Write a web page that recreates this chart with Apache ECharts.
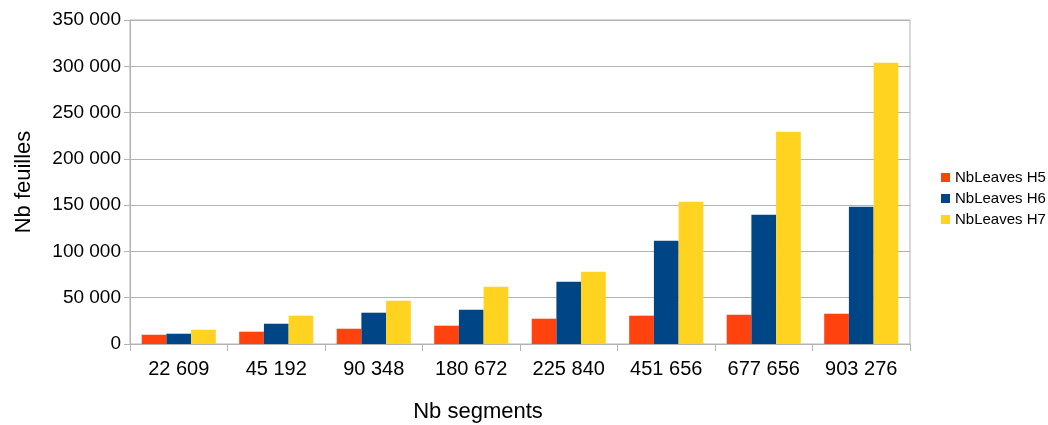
<!DOCTYPE html>
<html>
<head>
<meta charset="utf-8">
<script src="https://cdn.jsdelivr.net/npm/echarts@6/dist/echarts.min.js"></script>
<style>html,body{margin:0;padding:0;background:#fff}#c{width:1048px;height:425px}</style>
</head>
<body>
<div id="c"></div>
<script>
const categories = ['22 609','45 192','90 348','180 672','225 840','451 656','677 656','903 276'];
const h5 = [10000, 13300, 16500, 19800, 27300, 30600, 31600, 32700];
const h6 = [11100, 21900, 33800, 37000, 67300, 111600, 139600, 148300];
const h7 = [15400, 30600, 46800, 61900, 78000, 153700, 229300, 303800];
const seriesNames = ['NbLeaves H5','NbLeaves H6','NbLeaves H7'];
const colors = ['#ff420e','#004586','#ffd320'];

const fmt = v => String(v).replace(/\B(?=(\d{3})+(?!\d))/g, ' ');
const chart = echarts.init(document.getElementById('c'));
const font = 'Liberation Sans, Arial, sans-serif';
chart.setOption({
  animation: false,
  color: colors,
  textStyle: {fontFamily: font},
  grid: {left: 130, right: 138, top: 20, bottom: 81, show: true, borderColor: '#b3b3b3', borderWidth: 1, containLabel: false, outerBoundsMode: 'none'},
  legend: {
    orient: 'vertical', left: 936, top: 165,
    itemWidth: 9, itemHeight: 9, itemGap: 6,
    icon: 'rect',
    textStyle: {fontSize: 15, color: '#000', fontFamily: font},
    data: seriesNames
  },
  xAxis: {
    type: 'category', data: categories,
    name: 'Nb segments', nameLocation: 'middle', nameGap: 57,
    nameTextStyle: {fontSize: 22, color: '#000', fontFamily: font, padding: [0, 84, 0, 0]},
    axisLine: {show: true, lineStyle: {color: '#b3b3b3', width: 1}},
    axisTick: {show: true, alignWithLabel: false, length: 7, lineStyle: {color: '#b3b3b3'}},
    axisLabel: {fontSize: 20, color: '#000', margin: 15, fontFamily: font},
    splitLine: {show: false}
  },
  yAxis: {
    type: 'value', min: 0, max: 350000, interval: 50000,
    name: 'Nb feuilles', nameLocation: 'middle', nameGap: 95,
    nameTextStyle: {fontSize: 22, color: '#000', fontFamily: font},
    axisLine: {show: true, lineStyle: {color: '#b3b3b3', width: 1}},
    axisTick: {show: true, length: 6, lineStyle: {color: '#b3b3b3'}},
    axisLabel: {fontSize: 19, color: '#000', margin: 9, formatter: fmt, fontFamily: font},
    splitLine: {show: true, lineStyle: {color: '#b3b3b3', width: 1}}
  },
  series: [
    {name: seriesNames[0], type: 'bar', data: h5, barGap: 0, barCategoryGap: '24%'},
    {name: seriesNames[1], type: 'bar', data: h6, barGap: 0, barCategoryGap: '24%'},
    {name: seriesNames[2], type: 'bar', data: h7, barGap: 0, barCategoryGap: '24%'}
  ]
});
</script>
</body>
</html>
